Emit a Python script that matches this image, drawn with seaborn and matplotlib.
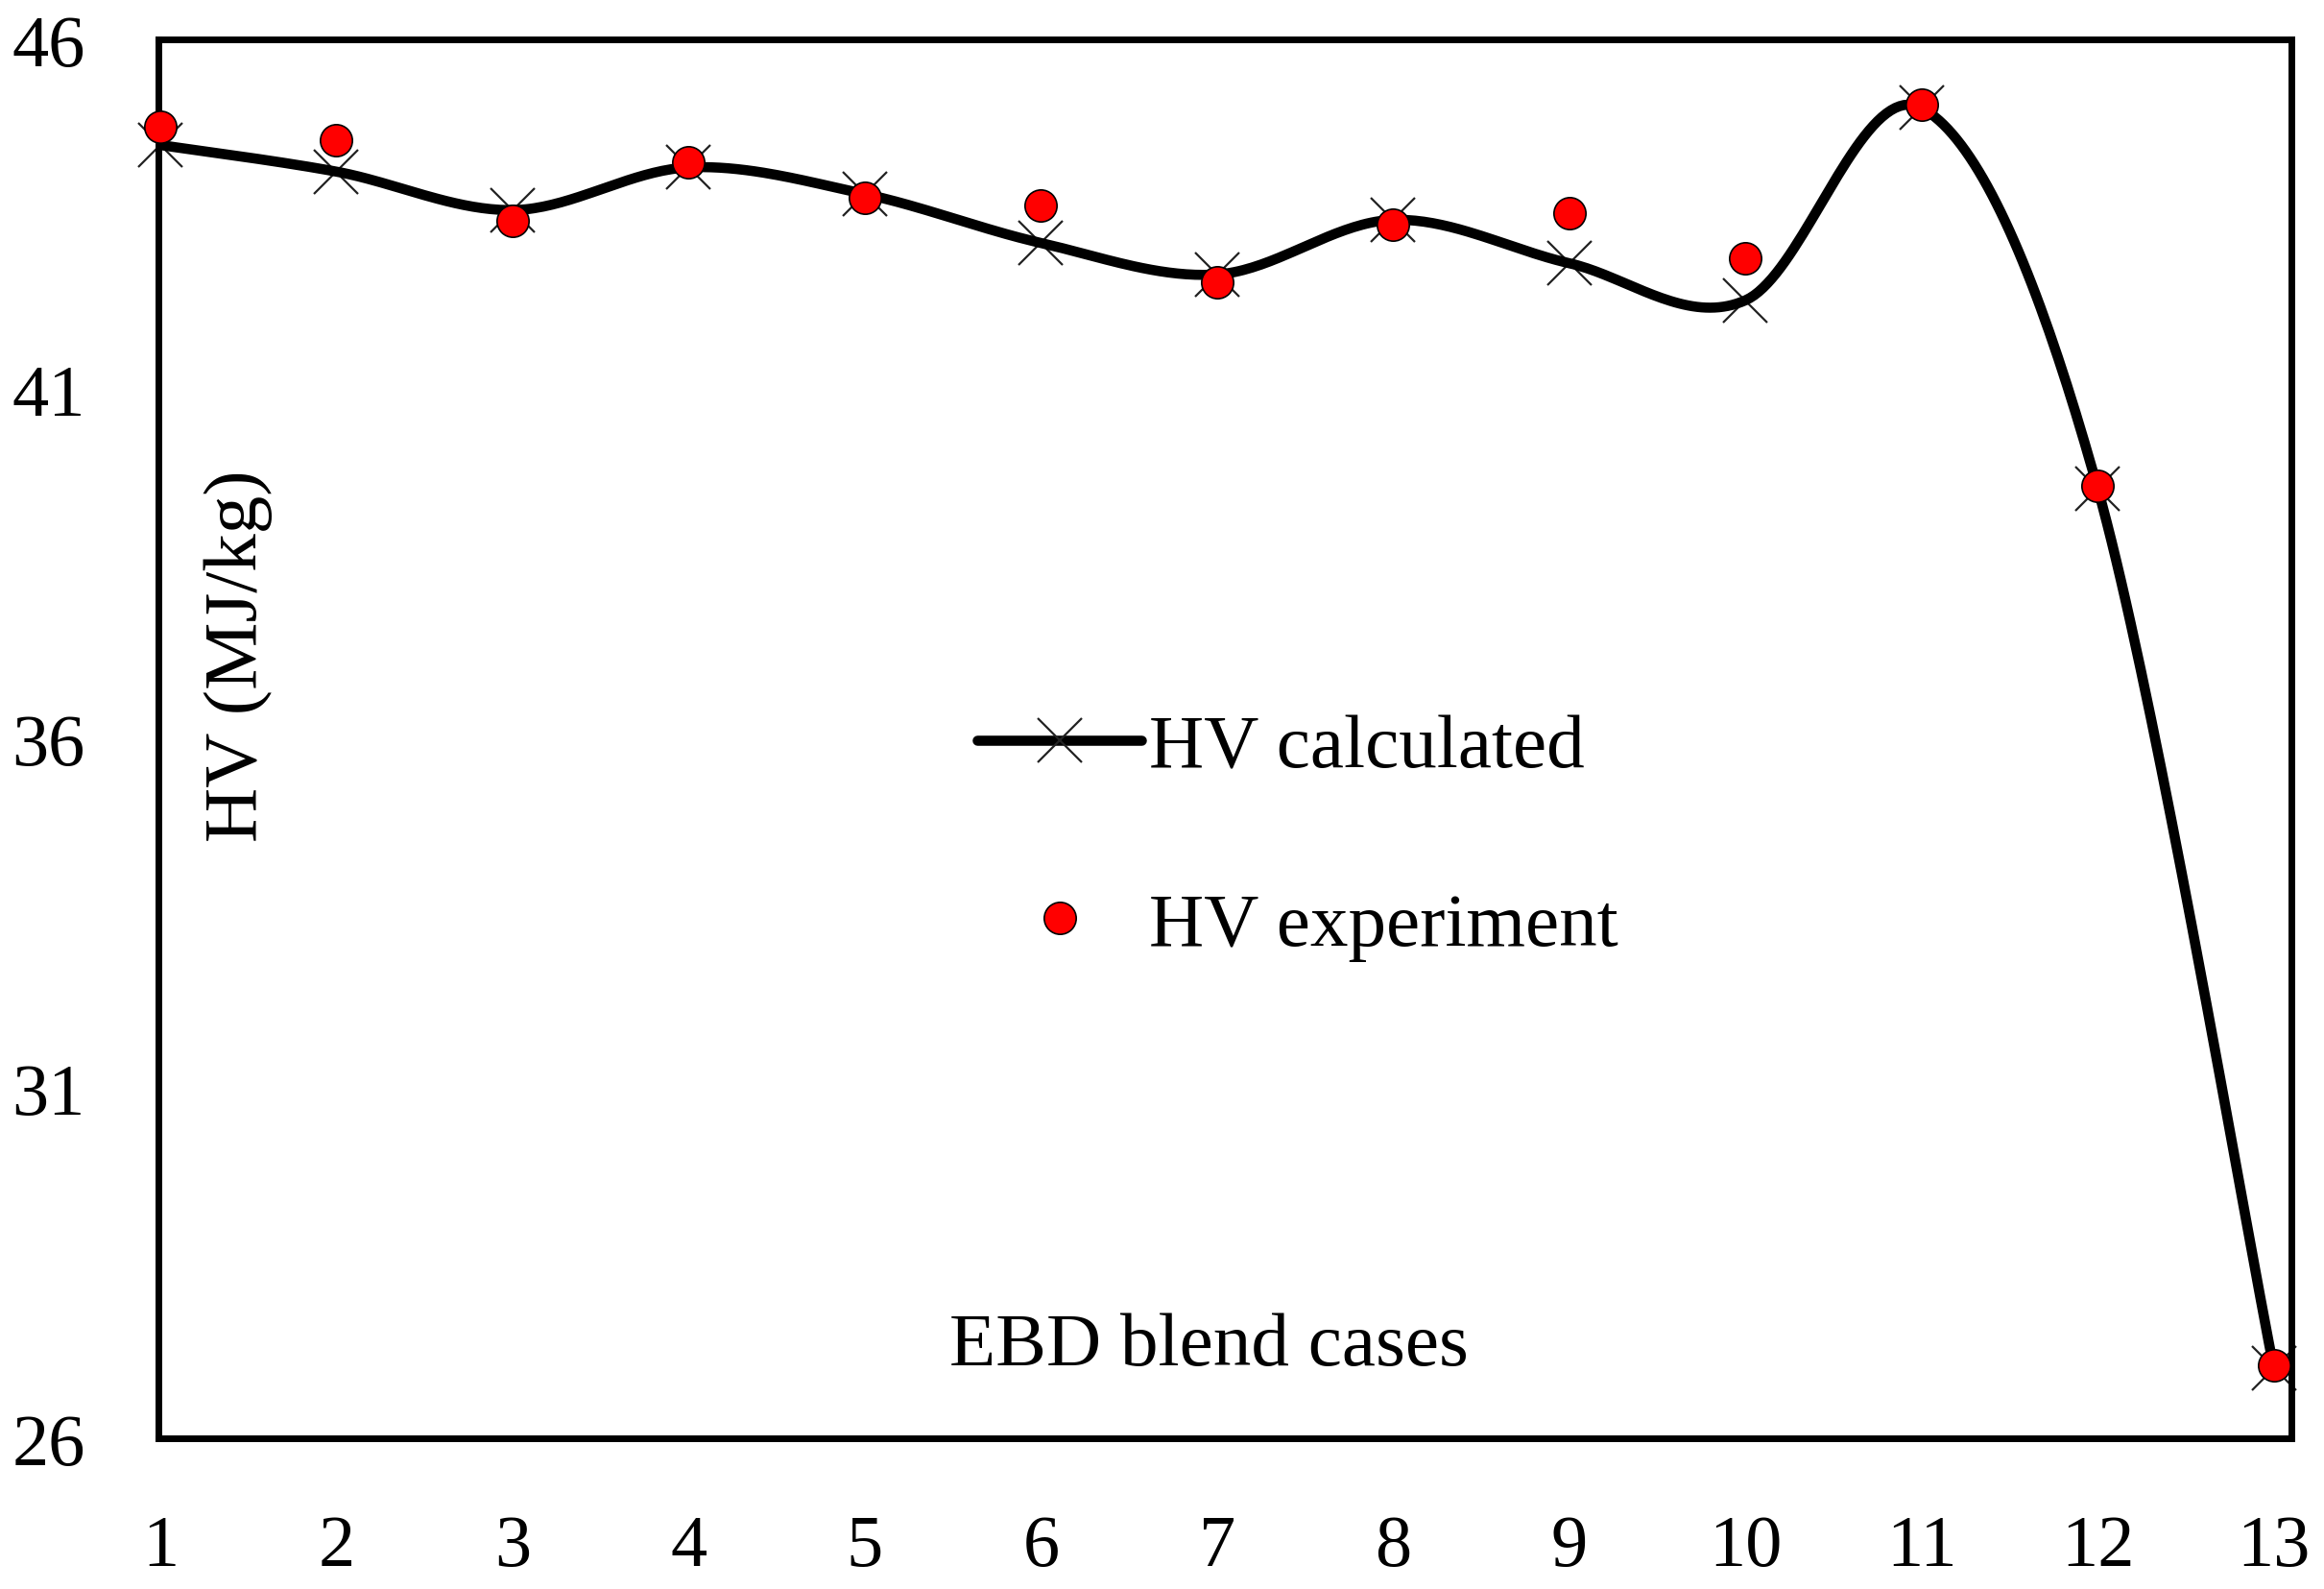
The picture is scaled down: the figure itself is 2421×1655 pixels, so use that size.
import numpy as np
import pandas as pd
import matplotlib
matplotlib.use("Agg")
import matplotlib.pyplot as plt
from matplotlib.lines import Line2D
import seaborn as sns

# Data
cases = [1, 2, 3, 4, 5, 6, 7, 8, 9, 10, 11, 12, 13]
hv_calculated = [44.49, 44.11, 43.56, 44.17, 43.79, 43.09, 42.64, 43.42, 42.80, 42.27, 45.02, 39.58, 27.00]
hv_experiment = [44.75, 44.56, 43.40, 44.24, 43.74, 43.63, 42.53, 43.35, 43.52, 42.87, 45.07, 39.62, 27.04]
y_ticks = [26, 31, 36, 41, 46]

calc = pd.DataFrame({"case": cases, "hv": hv_calculated})
expt = pd.DataFrame({"case": cases, "hv": hv_experiment})


def smooth(xs, ys, n=40):
    # Catmull-Rom spline, like a spreadsheet "smoothed line"
    xs = np.asarray(xs, float)
    ys = np.asarray(ys, float)
    px = np.concatenate([[xs[0]], xs, [xs[-1]]])
    py = np.concatenate([[ys[0]], ys, [ys[-1]]])
    outx, outy = [], []
    t = np.linspace(0, 1, n, endpoint=False)
    for i in range(1, len(px) - 2):
        for p, out in ((px, outx), (py, outy)):
            p0, p1, p2, p3 = p[i - 1], p[i], p[i + 1], p[i + 2]
            out.extend(0.5 * ((2 * p1) + (-p0 + p2) * t
                              + (2 * p0 - 5 * p1 + 4 * p2 - p3) * t ** 2
                              + (-p0 + 3 * p1 - 3 * p2 + p3) * t ** 3))
    outx.append(xs[-1])
    outy.append(ys[-1])
    return pd.DataFrame({"case": outx, "hv": outy})


curve = smooth(calc["case"], calc["hv"])

sns.set_style("white")
plt.rcParams["font.family"] = ["Liberation Serif", "DejaVu Serif"]
plt.rcParams["text.color"] = "black"
plt.rcParams["xtick.color"] = "black"
plt.rcParams["ytick.color"] = "black"

fig = plt.figure(figsize=(24.21, 16.56), dpi=100)
ax = fig.add_axes([0.0682, 0.0948, 0.9178, 0.8798])

sns.lineplot(data=curve, x="case", y="hv", ax=ax, color="black",
             linewidth=7.6, sort=False, estimator=None, zorder=3)
ax.plot(calc["case"], calc["hv"], linestyle="none", marker="x",
        markersize=33, markeredgewidth=1.6, color="#222222",
        zorder=2, clip_on=False)
ax.plot(expt["case"], expt["hv"], linestyle="none", marker="o",
        markersize=24, markerfacecolor="red", markeredgecolor="black",
        markeredgewidth=1.2, zorder=6, clip_on=False)

ax.set_xlim(0.99, 13.1)
ax.set_ylim(26, 46)
ax.set_xticks(cases)
ax.set_yticks(y_ticks)
ax.set_xlabel("")
ax.set_ylabel("")

for s in ax.spines.values():
    s.set_linewidth(5)
    s.set_color("black")
    s.set_visible(True)

ax.tick_params(axis="x", direction="out", length=17, width=2.5,
               pad=40, labelsize=55, colors="black")
ax.tick_params(axis="y", direction="out", length=20, width=3,
               pad=35, labelsize=55, colors="black")

ax.text(0.0375, 0.560, "HV (MJ/kg)", rotation=90, ha="center",
        va="center", fontsize=57, color="black", transform=ax.transAxes)
ax.text(0.4923, 0.0528, "EBD blend cases", ha="center",
        va="baseline", fontsize=57, color="black", transform=ax.transAxes)

handles = [
    Line2D([], [], color="black", linewidth=7.6, marker="x", markersize=33,
           markeredgewidth=1.6, markeredgecolor="#222222"),
    Line2D([], [], linestyle="none", marker="o", markersize=24,
           markerfacecolor="red", markeredgecolor="black",
           markeredgewidth=1.2),
]
leg = ax.legend(handles, ["HV calculated", "HV experiment"], loc="center left",
                bbox_to_anchor=(0.384, 0.4297), frameon=False, fontsize=57,
                handlelength=2.16, handletextpad=0.1, labelspacing=1.42,
                borderpad=0, borderaxespad=0, numpoints=1)
for t in leg.get_texts():
    t.set_color("black")

fig.savefig("out.png", dpi=100)
